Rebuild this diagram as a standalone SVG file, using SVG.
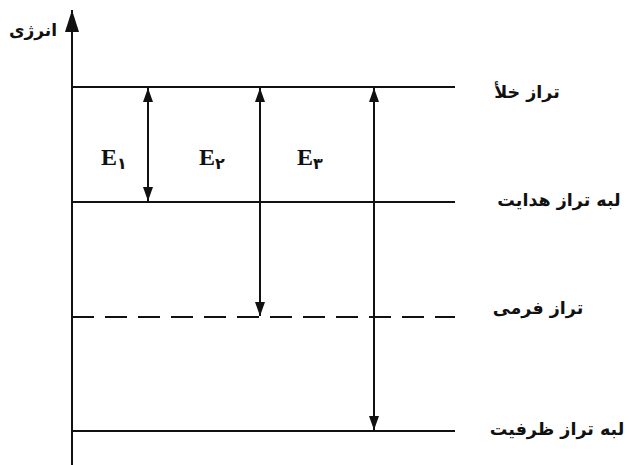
<svg xmlns="http://www.w3.org/2000/svg" width="629" height="465" viewBox="0 0 629 465">
<style>
.ln{stroke:#111;stroke-width:2;fill:none}
.lb{font-family:"DejaVu Sans","Noto Sans",sans-serif;font-weight:bold;font-size:17.5px;fill:#111;text-anchor:middle}
.e{font-family:"Liberation Serif","DejaVu Serif",serif;font-weight:bold;font-size:24px;fill:#111}
.d{font-family:"DejaVu Sans",sans-serif;font-weight:bold;font-size:16px}
</style>
<defs>
<marker id="ah" viewBox="0 0 14 10" refX="14" refY="5" markerWidth="14" markerHeight="10" markerUnits="userSpaceOnUse" orient="auto-start-reverse">
<path d="M0,0 L14,5 L0,10 Z" fill="#111"/>
</marker>
<marker id="ax" viewBox="0 0 22 14" refX="22" refY="7" markerWidth="22" markerHeight="14" markerUnits="userSpaceOnUse" orient="auto">
<path d="M0,0 L22,7 L0,14 Z" fill="#111"/>
</marker>
</defs>
<rect width="629" height="465" fill="#fff"/>
<g id="axis">
<line class="ln" x1="72" y1="465" x2="72" y2="10" marker-end="url(#ax)"/>
<text class="lb" x="33" y="36" style="font-size:17px">انرژی</text>
</g>
<g id="vacuum">
<line class="ln" x1="72" y1="87" x2="455" y2="87"/>
<text class="lb" x="527" y="98">تراز خلأ</text>
</g>
<g id="conduction">
<line class="ln" x1="72" y1="202" x2="455" y2="202"/>
<text class="lb" x="559" y="206">لبه تراز هدایت</text>
</g>
<g id="fermi">
<line class="ln" x1="72" y1="317" x2="455" y2="317" stroke-dasharray="22 11"/>
<text class="lb" x="538" y="314">تراز فرمی</text>
</g>
<g id="valence">
<line class="ln" x1="72" y1="431" x2="455" y2="431"/>
<text class="lb" x="557" y="435">لبه تراز ظرفیت</text>
</g>
<g id="connectors">
<line class="ln" x1="148" y1="88" x2="148" y2="201" marker-start="url(#ah)" marker-end="url(#ah)"/>
<line class="ln" x1="260" y1="88" x2="260" y2="316" marker-start="url(#ah)" marker-end="url(#ah)"/>
<line class="ln" x1="374" y1="88" x2="374" y2="430" marker-start="url(#ah)" marker-end="url(#ah)"/>
</g>
<g id="labels">
<text class="e" x="101" y="165">E<tspan class="d" dy="4">۱</tspan></text>
<text class="e" x="199" y="165">E<tspan class="d" dy="4">۲</tspan></text>
<text class="e" x="297" y="165">E<tspan class="d" dy="4">۳</tspan></text>
</g>
</svg>
